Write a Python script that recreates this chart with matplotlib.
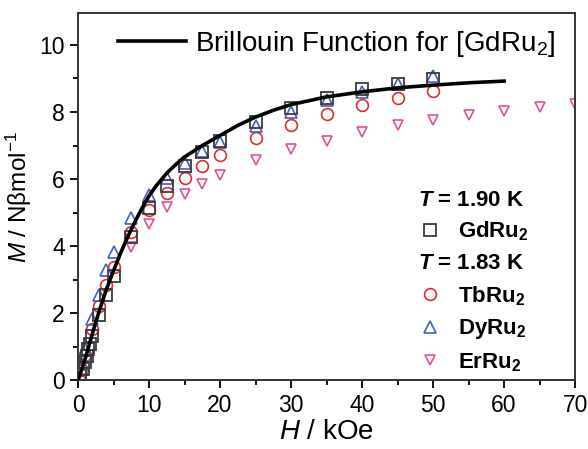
import matplotlib
matplotlib.use("Agg")
import matplotlib.pyplot as plt
from matplotlib.lines import Line2D

plt.rcParams['font.family'] = ['Liberation Sans', 'DejaVu Sans']
plt.rcParams['mathtext.fontset'] = 'custom'
plt.rcParams['mathtext.rm'] = 'Liberation Sans'
plt.rcParams['mathtext.it'] = 'Liberation Sans:italic'
plt.rcParams['mathtext.bf'] = 'Liberation Sans:bold'
plt.rcParams['mathtext.bfit'] = 'Liberation Sans:italic:bold'

# datos
h_gd = [0.3, 0.65, 1.0, 1.2, 1.45, 1.7, 2, 3, 4, 5, 7.5, 10, 12.5, 15, 17.5, 20, 25, 30, 35, 40, 45, 50]
m_gd = [0.2, 0.35, 0.55, 0.74, 0.94, 1.09, 1.34, 1.96, 2.56, 3.1, 4.27, 5.13, 5.8, 6.38, 6.8, 7.15, 7.71, 8.11, 8.42, 8.68, 8.84, 8.98]

h_tb = [0.5, 1, 2, 3, 4, 5, 7.5, 10, 12.5, 15, 17.5, 20, 25, 30, 35, 40, 45, 50]
m_tb = [0.3, 0.75, 1.54, 2.23, 2.85, 3.37, 4.41, 5.08, 5.58, 6.04, 6.39, 6.71, 7.21, 7.61, 7.94, 8.2, 8.42, 8.62]

h_dy = [0.5, 1, 2, 3, 4, 5, 7.5, 10, 12.5, 15, 17.5, 20, 25, 30, 35, 40, 45, 50]
m_dy = [0.5, 0.94, 1.84, 2.56, 3.28, 3.84, 4.83, 5.52, 6.04, 6.49, 6.84, 7.12, 7.57, 8.0, 8.35, 8.6, 8.84, 9.08]

h_er = [0.5, 7.5, 10, 12.5, 15, 17.5, 20, 25, 30, 35, 40, 45, 50, 55, 60, 65, 70]
m_er = [0.05, 3.98, 4.67, 5.17, 5.55, 5.84, 6.12, 6.56, 6.89, 7.15, 7.4, 7.6, 7.76, 7.9, 8.03, 8.15, 8.25]

h_brill = [0, 1, 2, 3, 4, 5, 6, 7, 8, 9, 10, 11, 12.5, 14, 15, 17.5, 20, 22.5, 25, 27.5, 30, 35, 40, 45, 50, 55, 60]
m_brill = [0, 0.64, 1.38, 2.08, 2.72, 3.27, 3.8, 4.28, 4.72, 5.13, 5.5, 5.8, 6.18, 6.48, 6.66, 7.0, 7.3, 7.6, 7.85, 8.05, 8.22, 8.45, 8.6, 8.72, 8.8, 8.87, 8.92]

fig = plt.figure(figsize=(5.88, 4.49), dpi=100)
ax = fig.add_axes([0.1327, 0.1526, 0.8453, 0.8185])

c_gd = '#3a3a3a'
c_tb = '#d9302c'
c_dy = '#3f5fc8'
c_er = '#e0509a'

ax.plot(h_er, m_er, 'v', ms=7.5, mfc='none', mec=c_er, mew=1.2, zorder=2)
ax.plot(h_tb, m_tb, 'o', ms=8.5, mfc='none', mec=c_tb, mew=1.2, zorder=3)
ax.plot(h_dy, m_dy, '^', ms=9, mfc='none', mec=c_dy, mew=1.2, zorder=3)
ax.plot(h_gd, m_gd, 's', ms=8, mfc='none', mec=c_gd, mew=1.3, zorder=4)
linea, = ax.plot(h_brill, m_brill, '-', color='black', lw=2.6, zorder=5,
                 label='Brillouin Function for [GdRu$_2$]')

ax.set_xlim(0, 70)
ax.set_ylim(0, 10.95)
ax.set_xticks(range(0, 71, 10))
ax.set_xticks(range(5, 70, 10), minor=True)
ax.set_yticks(range(0, 11, 2))
ax.set_yticks(range(1, 11, 2), minor=True)
ax.tick_params(which='major', direction='out', length=6, width=1.3, labelsize=16.5)
ax.tick_params(which='minor', direction='out', length=3.5, width=1.3)
for s in ax.spines.values():
    s.set_linewidth(1.4)
    s.set_color('#333333')

ax.set_xlabel('$H$ / kOe', fontsize=20, labelpad=2)
ax.set_ylabel('$M$ / N\u03b2mol$^{-1}$', fontsize=17.5, labelpad=4)

leg1 = ax.legend(handles=[linea], loc='center left', bbox_to_anchor=(0.08, 0.915),
                 frameon=False, fontsize=20, handlelength=2.45, handletextpad=0.33,
                 borderpad=0, borderaxespad=0)
ax.add_artist(leg1)

hs = [
    Line2D([], [], ls='none', marker='s', ms=8, mfc='none', mec=c_gd, mew=1.3),
    Line2D([], [], ls='none'),
    Line2D([], [], ls='none', marker='o', ms=8.5, mfc='none', mec=c_tb, mew=1.2),
    Line2D([], [], ls='none', marker='^', ms=9, mfc='none', mec=c_dy, mew=1.2),
    Line2D([], [], ls='none', marker='v', ms=7.5, mfc='none', mec=c_er, mew=1.2),
]
labs = ['GdRu$_\\mathbf{2}$', '', 'TbRu$_\\mathbf{2}$', 'DyRu$_\\mathbf{2}$', 'ErRu$_\\mathbf{2}$']
ax.legend(hs, labs, loc='upper left', bbox_to_anchor=(0.685, 0.437), frameon=False,
          prop={'size': 16, 'weight': 'bold'}, handlelength=1.0, handletextpad=0.8,
          labelspacing=0.44, borderpad=0, borderaxespad=0)

ax.text(0.684, 0.491, '$\\mathbfit{T}$ = 1.90 K', transform=ax.transAxes,
        fontsize=16, fontweight='bold', va='center', ha='left')
ax.text(0.684, 0.318, '$\\mathbfit{T}$ = 1.83 K', transform=ax.transAxes,
        fontsize=16, fontweight='bold', va='center', ha='left')

fig.savefig('out.png', dpi=100)
